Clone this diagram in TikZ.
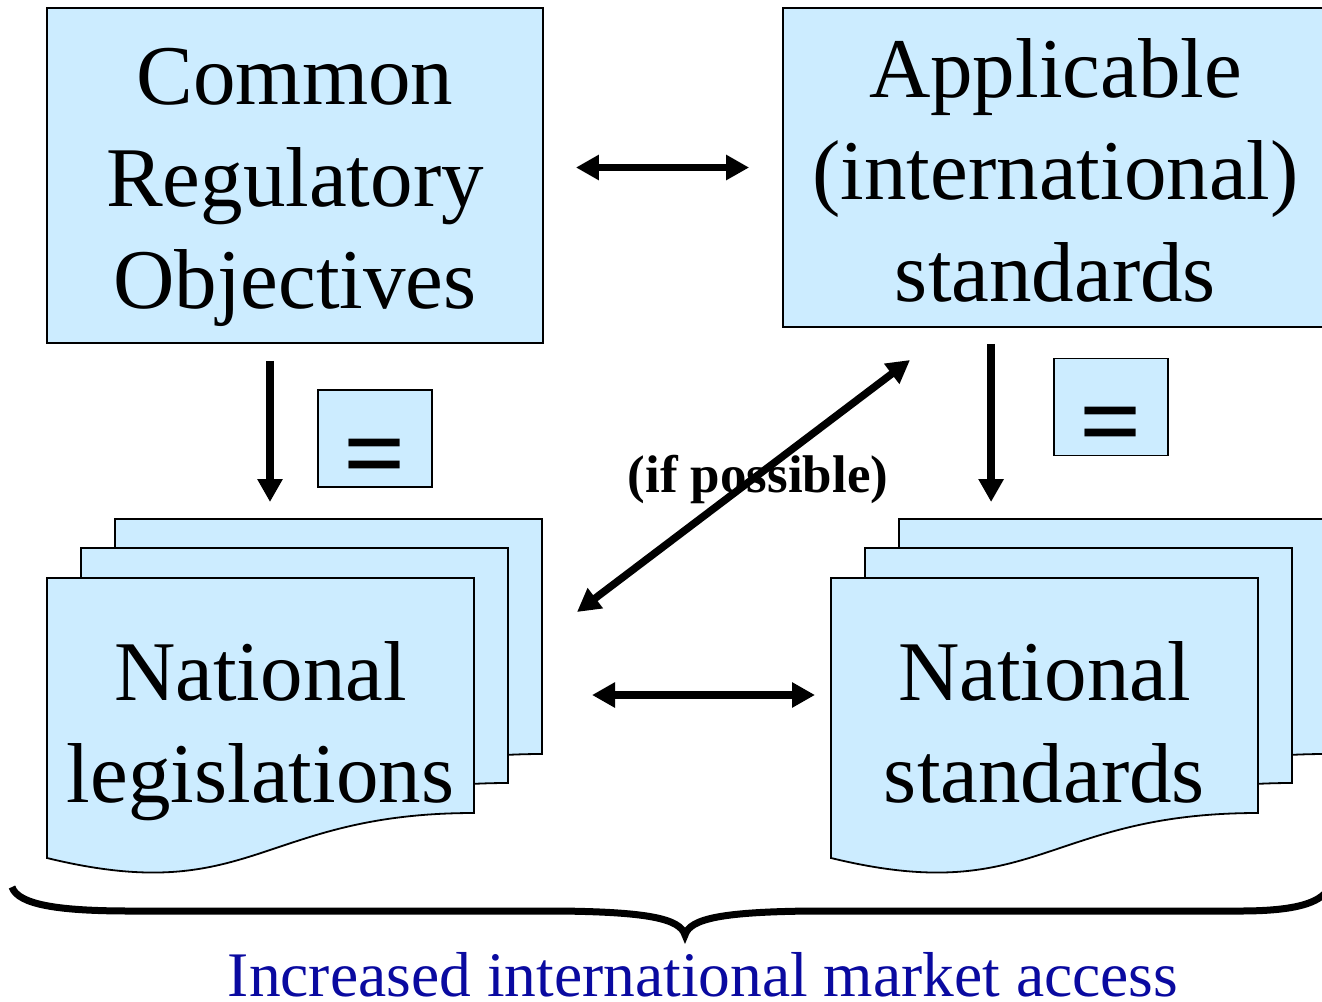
\documentclass[tikz,border=0pt]{standalone}
\usepackage{fontspec}
\setmainfont{Liberation Serif}
\usepackage{tikz}
\usetikzlibrary{arrows.meta, positioning}

\definecolor{boxblue}{HTML}{CCECFF}
\definecolor{accessblue}{RGB}{10,10,160}

\newcommand{\docsheet}[1]{\draw[sheet, shift={#1}] (0,0) -- (427,0) -- (427,235) .. controls (213,235) and (205,330) .. (0,280) -- cycle;}

\begin{document}
\begin{tikzpicture}[x=0.5pt, y=-0.5pt,
  bigbox/.style={draw, line width=0.9pt, fill=boxblue, inner sep=0pt},
  bigtext/.style={align=center, font=\fontsize{42.5}{51.2}\selectfont, inner sep=0pt},
  eqbox/.style={draw, line width=0.9pt, fill=boxblue, minimum width=57pt, minimum height=48.5pt},
  eqsign/.style={font=\bfseries\fontsize{55}{60}\selectfont, inner sep=0pt},
  sheet/.style={draw, line width=0.9pt, fill=boxblue},
  biarrow/.style={{Triangle[length=11.5pt,width=12pt]}-{Triangle[length=11.5pt,width=12pt]}, line width=3.75pt},
  onearrow/.style={-{Triangle[length=11.5pt,width=12pt]}, line width=3.75pt}]

\useasboundingbox (0,0) rectangle (1322,1001);

% top row
\node[bigbox, minimum width=248pt, minimum height=167.5pt] (cro) at (295,175.5) {};
\node[bigtext, yshift=-6pt] (crotxt) at (cro) {Common\\Regulatory\\Objectives};
\node[bigbox, minimum width=273.5pt, minimum height=159.5pt] (ais) at (1056.5,167.5) {};
\node[bigtext, xshift=-0.5pt, yshift=-1.5pt] (aistxt) at (ais) {Applicable\\(international)\\standards};

% equals boxes
\node[eqbox] (eqL) at (375,438.5) {};
\node[eqsign] (eqLsign) at (375,465) {=};
\node[eqbox] (eqR) at (1111,407) {};
\node[eqsign] (eqRsign) at (1111,433) {=};

% document stacks
\docsheet{(115,519)}
\docsheet{(81,548)}
\docsheet{(47,578)}
\docsheet{(899,519)}
\docsheet{(865,548)}
\docsheet{(831,578)}

\node[bigtext] (legtxt) at (260.5,731) {National\\legislations};
\node[bigtext] (stdtxt) at (1044.5,722.5) {National\\standards};

\coordinate (legback) at (115,519);
\coordinate (stdback) at (899,519);
\coordinate (legedge) at (543,695);
\coordinate (stdedge) at (831,695);
\coordinate (diagtop) at (910,360);
\coordinate (diagbot) at (577,612);

% connectors
\draw[biarrow, shorten <=16pt, shorten >=16.5pt] (cro.east |- ais.west) -- (ais.west);
\draw[onearrow, shorten <=8.5pt, shorten >=8.5pt] ([xshift=-12.5pt]cro.south) -- ([xshift=-12.5pt]cro.south |- legback);
\draw[onearrow, shorten <=8pt, shorten >=8.5pt] ([xshift=104.5pt]ais.south west) -- ([xshift=104.5pt]ais.south west |- stdback);
\node[font=\bfseries\fontsize{26.5}{30}\selectfont, anchor=base, inner sep=0pt] (ifpos) at (758,492) {(if possible)};
\draw[biarrow] (diagbot) -- (diagtop);
\draw[biarrow, shorten <=24.5pt, shorten >=8pt] (legedge) -- (stdedge);

% brace
\draw[line width=3.5pt] (12,887) .. controls (18,905) and (60,911) .. (130,911) -- (560,911)
  .. controls (645,912) and (680,918) .. (685,935)
  .. controls (690,918) and (725,912) .. (810,911) -- (1240,911)
  .. controls (1305,911) and (1322,900) .. (1330,887);

\node[font=\fontsize{31.75}{36}\selectfont, text=accessblue, anchor=base, inner sep=0pt] (access) at (703,996) {Increased international market access};

\end{tikzpicture}
\end{document}
